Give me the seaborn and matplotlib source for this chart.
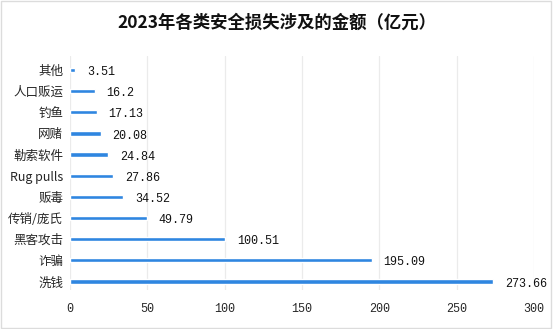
import matplotlib
matplotlib.use("Agg")
import matplotlib.pyplot as plt
import seaborn as sns
import pandas as pd
from matplotlib.patches import Rectangle

categories = ["其他", "人口贩运", "钓鱼", "网赌", "勒索软件", "Rug pulls",
              "贩毒", "传销/庞氏", "黑客攻击", "诈骗", "洗钱"]
amounts = [3.51, 16.2, 17.13, 20.08, 24.84, 27.86, 34.52, 49.79, 100.51, 195.09, 273.66]
value_labels = ["3.51", "16.2", "17.13", "20.08", "24.84", "27.86",
                "34.52", "49.79", "100.51", "195.09", "273.66"]
x_ticks = [0, 50, 100, 150, 200, 250, 300]

df = pd.DataFrame({"category": categories, "amount": amounts})

sns.set_theme(style="white")
plt.rcParams["font.family"] = ["Noto Sans CJK SC", "DejaVu Sans"]

fig = plt.figure(figsize=(5.53, 3.29), dpi=100)
ax = fig.add_axes([0.1266, 0.1185, 0.839, 0.7115])

sns.barplot(data=df, x="amount", y="category", orient="h", color="#2f86e0",
            saturation=1, width=0.2, ax=ax)

ax.set_xlim(0, 300)
ax.set_ylim(10.4, -0.66)
ax.set_xticks(x_ticks)
ax.set_xticklabels([str(t) for t in x_ticks], family="Liberation Mono", fontsize=8.5)
ax.tick_params(axis="x", length=0, pad=9)
ax.tick_params(axis="y", length=0, pad=5, labelsize=9)
for lab in ax.get_yticklabels():
    lab.set_family(["Noto Sans CJK SC", "Liberation Mono"])
ax.set_xlabel("")
ax.set_ylabel("")
ax.grid(axis="x", color="#ebebeb", linewidth=0.9)
ax.set_axisbelow(True)
for s in ax.spines.values():
    s.set_visible(False)

for i, (v, t) in enumerate(zip(amounts, value_labels)):
    ax.text(v + 7.5, i + 0.1, t, va="center", ha="left",
            family="Liberation Mono", fontsize=8.5, color="#111111")

fig.text(0.5, 0.93, "2023年各类安全损失涉及的金额（亿元）", ha="center", va="center",
         fontsize=12.5, fontweight="bold", color="#111111")

fig.patches.append(Rectangle((0.002, 0.003), 0.995, 0.994, transform=fig.transFigure,
                             fill=False, edgecolor="#dcdcdc", linewidth=1))

fig.savefig("out.png", dpi=100)
